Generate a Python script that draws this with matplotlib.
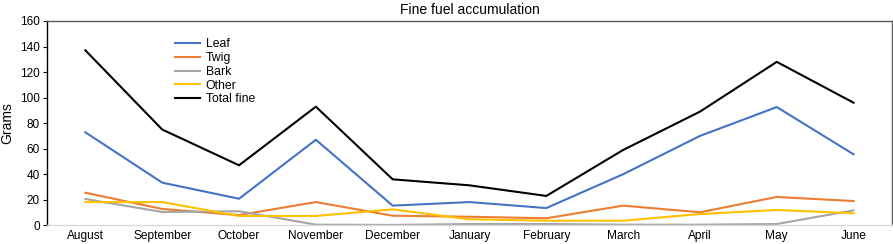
import matplotlib
matplotlib.use("Agg")
import matplotlib.pyplot as plt

months = ["August", "September", "October", "November", "December", "January",
          "February", "March", "April", "May", "June"]
leaf = [72.8, 33.4, 20.8, 67.0, 15.4, 18.2, 13.5, 40.0, 70.0, 92.6, 55.6]
twig = [25.5, 12.8, 8.0, 18.2, 7.5, 6.7, 5.5, 15.4, 10.2, 22.2, 19.0]
bark = [20.6, 10.4, 11.0, 0.5, 0.3, 1.0, 1.0, 0.5, 0.5, 1.0, 11.7]
other = [18.2, 18.2, 7.3, 7.3, 12.5, 4.7, 3.6, 3.6, 8.8, 12.0, 9.4]
total = [137.0, 75.0, 47.0, 92.9, 36.0, 31.3, 23.0, 59.0, 89.0, 128.0, 96.0]

plt.rcParams['font.family'] = ['Liberation Sans', 'DejaVu Sans']

fig = plt.figure(figsize=(8.93, 2.44), dpi=100)
ax = fig.add_axes([47 / 893, 1 - 225.3 / 244, 845 / 893, 204.3 / 244])

x = range(len(months))
ax.plot(x, leaf, color="#4472C4", lw=1.5, label="Leaf")
ax.plot(x, twig, color="#ED7D31", lw=1.5, label="Twig")
ax.plot(x, bark, color="#A5A5A5", lw=1.5, label="Bark")
ax.plot(x, other, color="#FFC000", lw=1.5, label="Other")
ax.plot(x, total, color="black", lw=1.5, label="Total fine")

ax.set_xlim(-0.5, len(months) - 0.5)
ax.set_ylim(0, 160)
ax.set_yticks(range(0, 161, 20))
ax.set_xticks(list(x))
ax.set_xticklabels(months)
ax.tick_params(axis="x", length=0, labelsize=8.6, pad=3.5)
ax.tick_params(axis="y", length=3, width=0.8, labelsize=8.5, pad=2)

ax.spines["left"].set_color("black")
ax.spines["bottom"].set_color("#D9D9D9")
ax.spines["top"].set_color("#595959")
ax.spines["right"].set_color("#595959")
for s in ax.spines.values():
    s.set_linewidth(1.0)

ax.set_ylabel("Grams", fontsize=10, labelpad=4)
ax.set_title("Fine fuel accumulation", fontsize=10, pad=5)

ax.legend(loc="upper left", bbox_to_anchor=(0.151, 0.916), frameon=False,
          fontsize=8.8, handlelength=2.05, handletextpad=0.5,
          labelspacing=0.15, borderpad=0, borderaxespad=0)

fig.savefig("out.png", dpi=100)
